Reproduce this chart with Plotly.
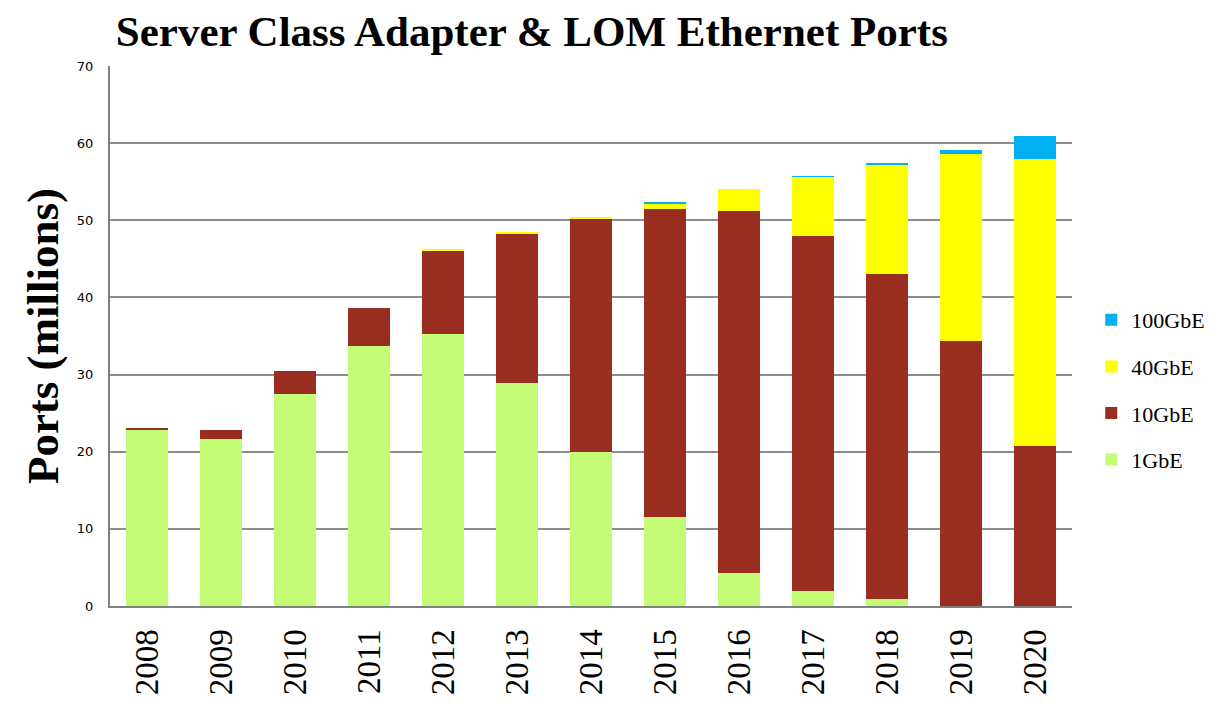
import plotly.graph_objects as go

# Dados (milhões de portas)
years = ["2008", "2009", "2010", "2011", "2012", "2013", "2014",
         "2015", "2016", "2017", "2018", "2019", "2020"]
gbe1 = [22.8, 21.6, 27.5, 33.7, 35.2, 28.95, 19.9, 11.6, 4.3, 2.0, 0.95, 0, 0]
gbe10 = [0.3, 1.2, 2.9, 4.9, 10.9, 19.35, 30.35, 39.85, 46.95, 45.95, 42.05, 34.35, 20.8]
gbe40 = [0, 0, 0, 0, 0.08, 0.1, 0.2, 0.75, 2.8, 7.7, 14.2, 24.2, 37.2]
gbe100 = [0, 0, 0, 0, 0, 0, 0, 0.08, 0, 0.06, 0.2, 0.55, 2.9]

series = [
    ("1GbE", gbe1, "#C4FB74", 4),
    ("10GbE", gbe10, "#992D20", 3),
    ("40GbE", gbe40, "#FFFF00", 2),
    ("100GbE", gbe100, "#00B0F0", 1),
]

fig = go.Figure()
for name, vals, color, rank in series:
    fig.add_trace(go.Bar(
        x=years, y=vals, name=name, legendgroup=name, legendrank=rank,
        marker=dict(color=color, line=dict(width=0)),
    ))

# Layout (a página tem 8px de margem no body)
fig.update_layout(
    barmode="stack",
    bargap=0.43,
    width=1224, height=706,
    margin=dict(l=102, r=160, t=58, b=108, autoexpand=False),
    plot_bgcolor="white",
    paper_bgcolor="white",
    title=dict(
        text="<b>Server Class Adapter & LOM Ethernet Ports</b>",
        x=0.428, xanchor="center", y=0.967, yanchor="middle",
        font=dict(family="Liberation Serif", size=43, color="black"),
    ),
    legend=dict(
        traceorder="grouped",
        x=1.02, xanchor="left", y=0.40, yanchor="middle",
        font=dict(family="Liberation Serif", size=22, color="black"),
        itemwidth=30, tracegroupgap=15,
    ),
    showlegend=True,
)

fig.update_xaxes(
    showline=True, linecolor="#808080", linewidth=2,
    tickangle=-90,
    tickfont=dict(family="Liberation Serif", size=33, color="black"),
    ticks="", ticklabelstandoff=8,
    automargin=False,
)

fig.update_yaxes(
    range=[0, 70], dtick=10,
    showline=True, linecolor="#808080", linewidth=2,
    showgrid=True, gridcolor="#8c8c8c", gridwidth=2,
    tickfont=dict(family="DejaVu Sans", size=13, color="black"),
    ticklabelstandoff=12,
    automargin=False,
    title=dict(
        text="<b>Ports (millions)</b>",
        font=dict(family="Liberation Serif", size=45, color="black"),
        standoff=4,
    ),
)

fig.write_html("out.html")
